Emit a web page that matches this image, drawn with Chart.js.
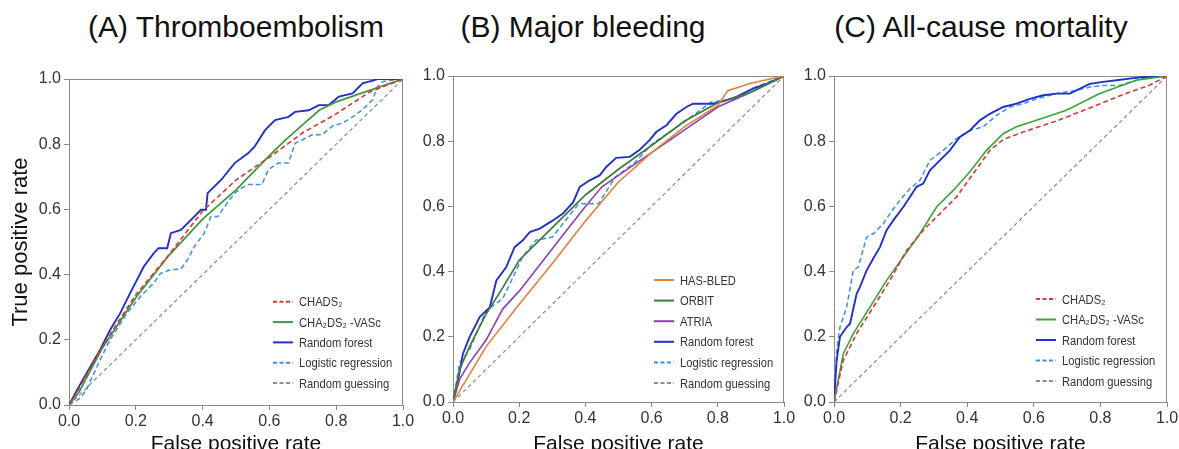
<!DOCTYPE html>
<html>
<head>
<meta charset="utf-8">
<script src="https://cdn.jsdelivr.net/npm/chart.js@4.4.1/dist/chart.umd.min.js"></script>
<style>
  html, body { margin:0; padding:0; background:#fff; width:1179px; height:449px; overflow:hidden; position:relative; }
  .ttl { position:absolute; top:12px; width:400px; text-align:center; font-family:"Liberation Sans", Arial, sans-serif; font-size:30px; line-height:30px; color:#111; white-space:nowrap; }
  canvas { position:absolute; }
</style>
</head>
<body>
<div class="ttl" style="left:36px">(A) Thromboembolism</div>
<div class="ttl" style="left:383px">(B) Major bleeding</div>
<div class="ttl" style="left:781px">(C) All-cause mortality</div>
<canvas id="cA" width="420" height="410" style="left:0px;top:50px"></canvas>
<canvas id="cB" width="380" height="410" style="left:420px;top:50px"></canvas>
<canvas id="cC" width="379" height="410" style="left:800px;top:50px"></canvas>
<script>
// ---------- DATA ----------
const tickValues = [0, 0.2, 0.4, 0.6, 0.8, 1.0];
const xTitle = "False positive rate";
const yTitle = "True positive rate";

// Panel A: Thromboembolism
const A_labels = ["CHADS₂", "CHA₂DS₂ -VASc", "Random forest", "Logistic regression", "Random guessing"];
const A_chads_x = [0, 0.03, 0.1, 0.2, 0.3, 0.4, 0.5, 0.6, 0.7, 0.8, 0.9, 1];
const A_chads_y = [0, 0.05, 0.18, 0.338, 0.462, 0.595, 0.69, 0.76, 0.835, 0.893, 0.96, 1];
const A_vasc_x = [0, 0.03, 0.1, 0.2, 0.3, 0.4, 0.5, 0.6, 0.65, 0.7, 0.75, 0.8, 0.9, 1];
const A_vasc_y = [0, 0.04, 0.175, 0.33, 0.46, 0.57, 0.66, 0.765, 0.815, 0.86, 0.905, 0.93, 0.965, 1];
const A_rf_x = [0, 0.032, 0.058, 0.093, 0.123, 0.153, 0.183, 0.224, 0.254, 0.268, 0.294, 0.305, 0.335, 0.375, 0.395, 0.41, 0.415, 0.456, 0.496, 0.536, 0.556, 0.587, 0.617, 0.657, 0.677, 0.718, 0.748, 0.778, 0.808, 0.849, 0.879, 0.909, 0.924, 1];
const A_rf_y = [0, 0.061, 0.107, 0.169, 0.23, 0.281, 0.343, 0.425, 0.466, 0.481, 0.481, 0.527, 0.537, 0.578, 0.599, 0.599, 0.65, 0.691, 0.742, 0.772, 0.793, 0.843, 0.874, 0.884, 0.899, 0.904, 0.92, 0.92, 0.946, 0.956, 0.987, 0.995, 1, 1];
const A_lr_x = [0, 0.032, 0.052, 0.093, 0.123, 0.173, 0.214, 0.254, 0.274, 0.304, 0.335, 0.355, 0.375, 0.405, 0.425, 0.446, 0.466, 0.496, 0.516, 0.536, 0.577, 0.597, 0.627, 0.657, 0.677, 0.698, 0.728, 0.758, 0.788, 0.819, 0.859, 0.889, 0.909, 0.924, 0.94, 0.97, 1];
const A_lr_y = [0, 0.02, 0.046, 0.138, 0.2, 0.281, 0.333, 0.374, 0.404, 0.415, 0.417, 0.445, 0.486, 0.527, 0.578, 0.578, 0.609, 0.65, 0.665, 0.676, 0.676, 0.722, 0.742, 0.742, 0.803, 0.813, 0.829, 0.829, 0.855, 0.865, 0.89, 0.916, 0.936, 0.977, 0.992, 0.997, 1];
const guess_x = [0, 1];
const guess_y = [0, 1];

// Panel B: Major bleeding
const B_labels = ["HAS-BLED", "ORBIT", "ATRIA", "Random forest", "Logistic regression", "Random guessing"];
const B_hasbled_x = [0, 0.1, 0.2, 0.3, 0.4, 0.5, 0.6, 0.7, 0.8, 0.83, 0.9, 1];
const B_hasbled_y = [0, 0.17, 0.3, 0.425, 0.555, 0.675, 0.765, 0.845, 0.91, 0.955, 0.978, 1];
const B_orbit_x = [0, 0.02, 0.05, 0.1, 0.15, 0.2, 0.25, 0.3, 0.4, 0.5, 0.6, 0.7, 0.8, 0.9, 1];
const B_orbit_y = [0, 0.1, 0.17, 0.27, 0.35, 0.435, 0.485, 0.535, 0.635, 0.714, 0.787, 0.862, 0.918, 0.95, 1];
const B_atria_x = [0, 0.02, 0.05, 0.1, 0.15, 0.2, 0.25, 0.3, 0.35, 0.4, 0.45, 0.5, 0.6, 0.7, 0.8, 0.9, 1];
const B_atria_y = [0, 0.07, 0.12, 0.19, 0.285, 0.34, 0.405, 0.47, 0.535, 0.6, 0.66, 0.695, 0.765, 0.835, 0.905, 0.95, 1];
const B_rf_x = [0, 0.015, 0.03, 0.05, 0.081, 0.111, 0.131, 0.161, 0.186, 0.211, 0.232, 0.262, 0.302, 0.332, 0.363, 0.383, 0.413, 0.443, 0.463, 0.493, 0.534, 0.564, 0.594, 0.614, 0.645, 0.675, 0.705, 0.725, 0.786, 0.826, 0.856, 0.876, 0.906, 0.947, 1];
const B_rf_y = [0, 0.066, 0.148, 0.199, 0.261, 0.29, 0.373, 0.414, 0.475, 0.496, 0.521, 0.532, 0.557, 0.578, 0.613, 0.66, 0.68, 0.695, 0.721, 0.749, 0.752, 0.774, 0.803, 0.828, 0.849, 0.884, 0.905, 0.915, 0.915, 0.925, 0.936, 0.946, 0.961, 0.976, 1];
const B_lr_x = [0, 0.02, 0.05, 0.1, 0.15, 0.18, 0.21, 0.25, 0.3, 0.34, 0.38, 0.44, 0.49, 0.55, 0.6, 0.7, 0.78, 0.85, 0.9, 1];
const B_lr_y = [0, 0.12, 0.16, 0.28, 0.317, 0.38, 0.445, 0.496, 0.506, 0.557, 0.608, 0.608, 0.69, 0.735, 0.79, 0.86, 0.92, 0.93, 0.96, 1];

// Panel C: All-cause mortality
const C_labels = ["CHADS₂", "CHA₂DS₂ -VASc", "Random forest", "Logistic regression", "Random guessing"];
const C_chads_x = [0, 0.028, 0.068, 0.118, 0.168, 0.218, 0.268, 0.318, 0.368, 0.418, 0.468, 0.508, 0.568, 0.668, 0.768, 0.868, 0.948, 1];
const C_chads_y = [0, 0.128, 0.21, 0.291, 0.373, 0.465, 0.527, 0.578, 0.629, 0.7, 0.772, 0.805, 0.828, 0.862, 0.902, 0.943, 0.972, 1];
const C_vasc_x = [0, 0.028, 0.058, 0.108, 0.158, 0.208, 0.258, 0.308, 0.358, 0.408, 0.458, 0.508, 0.548, 0.608, 0.698, 0.798, 0.908, 1];
const C_vasc_y = [0, 0.148, 0.21, 0.291, 0.373, 0.445, 0.516, 0.598, 0.649, 0.706, 0.772, 0.823, 0.844, 0.864, 0.895, 0.946, 0.987, 1];
const C_rf_x = [0, 0.008, 0.018, 0.038, 0.048, 0.068, 0.078, 0.098, 0.118, 0.138, 0.158, 0.178, 0.208, 0.228, 0.248, 0.268, 0.288, 0.318, 0.348, 0.378, 0.408, 0.438, 0.468, 0.508, 0.548, 0.588, 0.628, 0.668, 0.708, 0.748, 0.768, 0.808, 0.848, 0.888, 0.928, 1];
const C_rf_y = [0, 0.128, 0.2, 0.23, 0.24, 0.332, 0.353, 0.404, 0.44, 0.475, 0.527, 0.557, 0.598, 0.629, 0.66, 0.67, 0.711, 0.741, 0.772, 0.813, 0.833, 0.864, 0.884, 0.905, 0.915, 0.93, 0.941, 0.946, 0.946, 0.966, 0.976, 0.982, 0.987, 0.992, 0.997, 1];
const C_lr_x = [0, 0.008, 0.018, 0.038, 0.058, 0.073, 0.098, 0.118, 0.148, 0.168, 0.198, 0.228, 0.258, 0.288, 0.328, 0.368, 0.408, 0.448, 0.488, 0.528, 0.568, 0.608, 0.668, 0.728, 0.768, 0.808, 0.858, 0.908, 0.948, 1];
const C_lr_y = [0, 0.158, 0.23, 0.291, 0.404, 0.414, 0.506, 0.516, 0.547, 0.578, 0.619, 0.654, 0.68, 0.741, 0.772, 0.808, 0.833, 0.844, 0.879, 0.905, 0.915, 0.93, 0.946, 0.956, 0.966, 0.971, 0.971, 0.987, 0.997, 1];

// ---------- HELPERS ----------
const FONT = '"Liberation Sans", Arial, sans-serif';
const zip = (xs, ys) => xs.map((x, i) => ({x: x, y: ys[i]}));

function ds(label, xs, ys, color, width, dash) {
  return { label: label, data: zip(xs, ys), borderColor: color, backgroundColor: color,
           borderWidth: width, borderDash: dash || [], pointRadius: 0, showLine: true,
           tension: 0, fill: false };
}

const framePlugin = {
  id: 'frame',
  beforeDatasetsDraw(chart) {
    const a = chart.chartArea, ctx = chart.ctx;
    ctx.save();
    ctx.strokeStyle = '#8a8a8a';
    ctx.lineWidth = 1;
    ctx.beginPath();
    ctx.moveTo(a.left, a.top + 0.5);
    ctx.lineTo(a.right - 0.5, a.top + 0.5);
    ctx.lineTo(a.right - 0.5, a.bottom);
    ctx.stroke();
    ctx.restore();
  }
};

const innerLegend = {
  id: 'innerLegend',
  afterDatasetsDraw(chart, args, opts) {
    const a = chart.chartArea, ctx = chart.ctx;
    const sets = chart.data.datasets;
    const n = sets.length;
    const x0 = a.right - opts.right;
    ctx.save();
    ctx.font = '13px ' + FONT;
    ctx.textBaseline = 'middle';
    ctx.textAlign = 'left';
    sets.forEach((d, i) => {
      const y = a.bottom - opts.bottom - (n - 1 - i) * opts.spacing;
      ctx.strokeStyle = d.borderColor;
      ctx.lineWidth = Math.max(2, d.borderWidth);
      ctx.setLineDash(d.borderDash && d.borderDash.length ? [4, 2.5] : []);
      ctx.beginPath();
      ctx.moveTo(x0, y);
      ctx.lineTo(x0 + 20, y);
      ctx.stroke();
      ctx.setLineDash([]);
      ctx.fillStyle = '#333';
      ctx.save();
      ctx.translate(x0 + 26, y + 1);
      ctx.scale(0.86, 1);
      ctx.fillText(d.label, 0, 0);
      ctx.restore();
    });
    ctx.restore();
  }
};

function makeChart(id, datasets, geo, showY) {
  const axisColor = '#8a8a8a';
  const tickFont = { family: FONT, size: 16 };
  new Chart(document.getElementById(id), {
    type: 'scatter',
    data: { datasets: datasets },
    plugins: [framePlugin, innerLegend],
    options: {
      responsive: false,
      animation: false,
      devicePixelRatio: 1,
      layout: { padding: { top: geo.padTop, right: geo.padRight, left: 0, bottom: 0 } },
      plugins: {
        legend: { display: false },
        tooltip: { enabled: false },
        innerLegend: geo.legend
      },
      scales: {
        x: {
          type: 'linear', min: 0, max: 1,
          afterBuildTicks: s => { s.ticks = tickValues.map(v => ({value: v})); },
          ticks: { callback: v => v.toFixed(1), font: tickFont, color: '#333', padding: 2, maxRotation: 0, autoSkip: false },
          grid: { display: true, drawOnChartArea: false, drawTicks: true, tickLength: 5, color: axisColor },
          border: { display: true, color: axisColor, width: 1 },
          title: { display: true, text: xTitle, font: { family: FONT, size: 21 }, color: '#111', padding: { top: 0, bottom: 3 } },
          afterFit: s => { s.height = geo.xH; s.paddingLeft = 0; s.paddingRight = 0; }
        },
        y: {
          type: 'linear', min: 0, max: 1,
          afterBuildTicks: s => { s.ticks = tickValues.map(v => ({value: v})); },
          ticks: { callback: v => v.toFixed(1), font: tickFont, color: '#333', padding: 3, autoSkip: false },
          grid: { display: true, drawOnChartArea: false, drawTicks: true, tickLength: 5, color: axisColor },
          border: { display: true, color: axisColor, width: 1 },
          title: { display: showY, text: yTitle, font: { family: FONT, size: 22 }, color: '#111', padding: { top: 8, bottom: 0 } },
          afterFit: s => { s.width = geo.yW; s.paddingTop = 0; s.paddingBottom = 0; }
        }
      }
    }
  });
}

const RED = '#d63a32', GREEN_A = '#3f9a3f', GREEN_C = '#3aa43a', BLUE = '#2230c8', LBLUE = '#3f8fe0', GRAY = '#8c8c8c';
const ORANGE = '#e2803c', DGREEN = '#3c7c3c', PURPLE = '#8c40b8';

makeChart('cA', [
  ds(A_labels[0], A_chads_x, A_chads_y, RED, 1.6, [5, 3]),
  ds(A_labels[1], A_vasc_x, A_vasc_y, GREEN_A, 1.8),
  ds(A_labels[2], A_rf_x, A_rf_y, BLUE, 1.9),
  ds(A_labels[3], A_lr_x, A_lr_y, LBLUE, 1.5, [5, 3]),
  ds(A_labels[4], guess_x, guess_y, GRAY, 1.2, [4, 3])
], { padTop: 29, padRight: 17, xH: 55, yW: 69, legend: { right: 130, bottom: 22, spacing: 20.3 } }, true);

makeChart('cB', [
  ds(B_labels[0], B_hasbled_x, B_hasbled_y, ORANGE, 1.6),
  ds(B_labels[1], B_orbit_x, B_orbit_y, DGREEN, 1.7),
  ds(B_labels[2], B_atria_x, B_atria_y, PURPLE, 1.6),
  ds(B_labels[3], B_rf_x, B_rf_y, BLUE, 1.9),
  ds(B_labels[4], B_lr_x, B_lr_y, LBLUE, 1.5, [5, 3]),
  ds(B_labels[5], guess_x, guess_y, GRAY, 1.2, [4, 3])
], { padTop: 26, padRight: 16, xH: 58, yW: 33, legend: { right: 130, bottom: 19, spacing: 20.6 } }, false);

makeChart('cC', [
  ds(C_labels[0], C_chads_x, C_chads_y, RED, 1.6, [5, 3]),
  ds(C_labels[1], C_vasc_x, C_vasc_y, GREEN_C, 1.6),
  ds(C_labels[2], C_rf_x, C_rf_y, BLUE, 1.9),
  ds(C_labels[3], C_lr_x, C_lr_y, LBLUE, 1.5, [5, 3]),
  ds(C_labels[4], guess_x, guess_y, GRAY, 1.2, [4, 3])
], { padTop: 26, padRight: 12, xH: 58, yW: 34, legend: { right: 131, bottom: 21, spacing: 20.5 } }, false);
</script>
</body>
</html>
